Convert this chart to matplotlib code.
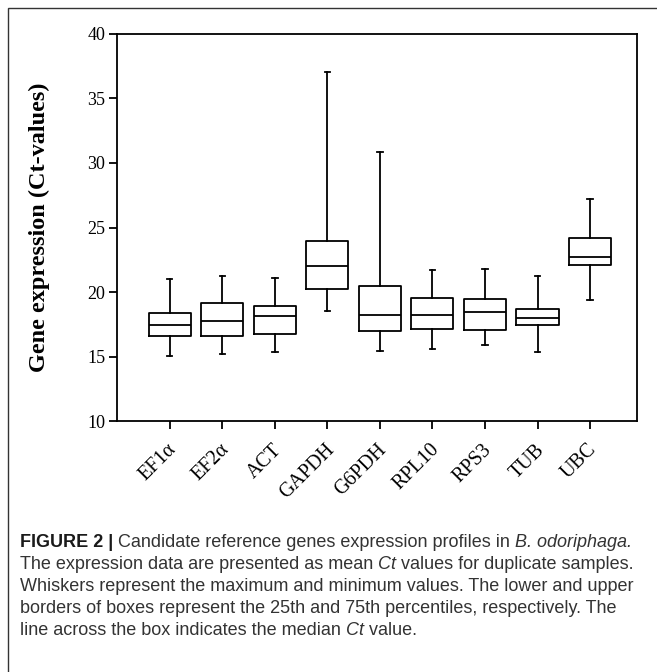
import matplotlib
matplotlib.use('Agg')
import matplotlib.pyplot as plt
import matplotlib.patches as patches
import matplotlib.transforms as mtransforms

# Gene names (x tick labels)
genes = ['EF1α', 'EF2α', 'ACT', 'GAPDH', 'G6PDH', 'RPL10', 'RPS3', 'TUB', 'UBC']

# Box plot statistics (Ct values)
whisker_min = [15.06, 15.19, 15.37, 18.54, 15.47, 15.62, 15.91, 15.37, 19.39]
q1_values = [16.63, 16.60, 16.78, 20.22, 16.97, 17.15, 17.07, 17.45, 22.10]
median_values = [17.48, 17.76, 18.18, 22.02, 18.23, 18.21, 18.46, 18.02, 22.69]
q3_values = [18.36, 19.13, 18.95, 23.95, 20.50, 19.54, 19.44, 18.72, 24.21]
whisker_max = [20.99, 21.27, 21.11, 37.00, 30.86, 21.69, 21.79, 21.25, 27.23]

# Build the stats list bxp needs
stats = []
for i, g in enumerate(genes):
    stats.append({'label': g, 'whislo': whisker_min[i], 'q1': q1_values[i],
                  'med': median_values[i], 'q3': q3_values[i],
                  'whishi': whisker_max[i], 'fliers': []})

W, H, DPI = 657, 672, 100
fig = plt.figure(figsize=(W / DPI, H / DPI), dpi=DPI)

# axes placed in pixel terms of the original figure
left, right, top, bottom = 117.3, 637.3, 33.7, 421.3
ax = fig.add_axes([left / W, 1 - bottom / H, (right - left) / W, (bottom - top) / H])

line_kw = dict(color='black', linewidth=1.3)
ax.bxp(stats, positions=range(1, len(genes) + 1), widths=0.8, capwidths=0.1,
       showfliers=False, boxprops=line_kw, whiskerprops=line_kw,
       capprops=line_kw, medianprops=line_kw)

ax.set_xlim(0, 9.9)
ax.set_ylim(10, 40)
ax.set_yticks([10, 15, 20, 25, 30, 35, 40])

serif = 'Liberation Serif'
for s in ax.spines.values():
    s.set_linewidth(1.3)
ax.tick_params(axis='both', direction='out', length=5.5, width=1.3,
               top=False, right=False)
ax.tick_params(axis='y', pad=3, labelsize=13)
ax.tick_params(axis='x', pad=13, labelsize=14.5)
for lab in ax.get_yticklabels():
    lab.set_fontfamily(serif)

offset = mtransforms.ScaledTranslation(4 / DPI, 0, fig.dpi_scale_trans)
for lab in ax.get_xticklabels():
    lab.set_fontfamily(serif)
    lab.set_rotation(45)
    lab.set_ha('right')
    lab.set_va('center')
    lab.set_rotation_mode('anchor')
    lab.set_transform(lab.get_transform() + offset)

ax.set_ylabel('Gene expression (Ct-values)', fontfamily=serif, fontweight='bold',
              fontsize=17.5, va='center')
ax.yaxis.set_label_coords((39 - left) / (right - left), 0.5)

# outer frame of the figure panel
frame = patches.Rectangle((8 / W, -0.2), 1.2, 1.2 - 8 / H, transform=fig.transFigure,
                          fill=False, edgecolor='#333333', linewidth=1.0)
fig.add_artist(frame)

# caption, built piece by piece so bold / italic parts sit inline
cap_font = 'Liberation Sans'
cap_size = 13.0
cap_color = '#333333'
caption_lines = [
    [('FIGURE 2 | ', 'bold', 'normal', '#1a1a1a'),
     ('Candidate reference genes expression profiles in ', 'normal', 'normal', cap_color),
     ('B. odoriphaga.', 'normal', 'italic', cap_color)],
    [('The expression data are presented as mean ', 'normal', 'normal', cap_color),
     ('Ct', 'normal', 'italic', cap_color),
     (' values for duplicate samples.', 'normal', 'normal', cap_color)],
    [('Whiskers represent the maximum and minimum values. The lower and upper', 'normal', 'normal', cap_color)],
    [('borders of boxes represent the 25th and 75th percentiles, respectively. The', 'normal', 'normal', cap_color)],
    [('line across the box indicates the median ', 'normal', 'normal', cap_color),
     ('Ct', 'normal', 'italic', cap_color),
     (' value.', 'normal', 'normal', cap_color)],
]
baselines = [547, 569, 591, 613, 635]

renderer = fig.canvas.get_renderer()
for line, yb in zip(caption_lines, baselines):
    x = 20.0
    for txt, weight, style, col in line:
        t = fig.text(x / W, 1 - yb / H, txt, fontfamily=cap_font, fontsize=cap_size,
                     fontweight=weight, fontstyle=style, color=col,
                     ha='left', va='baseline')
        bb = t.get_window_extent(renderer=renderer)
        x += bb.width

fig.savefig('out.png', dpi=DPI)
